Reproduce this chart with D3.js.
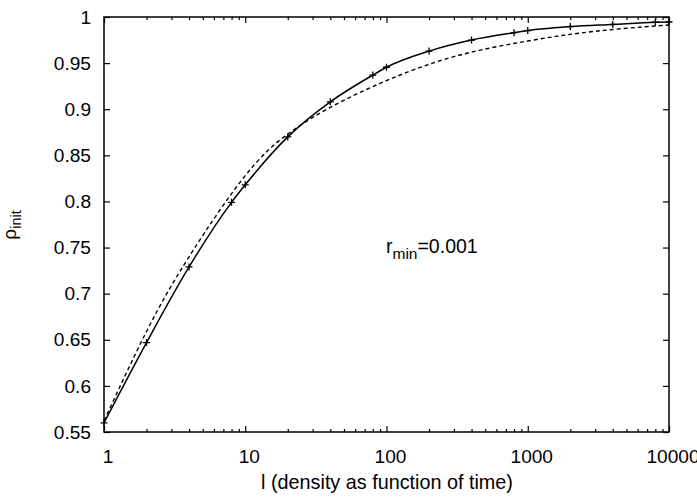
<!DOCTYPE html>
<html>
<head>
<meta charset="utf-8">
<script src="https://cdn.jsdelivr.net/npm/d3@7"></script>
<style>
  html, body { margin: 0; padding: 0; background: #fff; }
  svg { display: block; font-family: "Liberation Sans", Arial, sans-serif; }
</style>
</head>
<body>
<svg id="chart" width="697" height="497"></svg>
<script>
// ---- data ----
const simL   = [1, 2, 4, 8, 10, 20, 40, 80, 100, 200, 400, 800, 1000, 2000, 4000, 8000, 10000];
const simRho = [0.560, 0.647, 0.729, 0.799, 0.818, 0.870, 0.908, 0.937, 0.9455, 0.963, 0.975, 0.983, 0.9853, 0.9896, 0.992, 0.9943, 0.9946];

const fitL   = [1, 2, 4, 10, 20, 40, 100, 300, 1000, 3000, 10000];
const fitRho = [0.562, 0.659, 0.740, 0.828, 0.873, 0.902, 0.931, 0.957, 0.974, 0.9845, 0.9914];

const xMajor = [1, 10, 100, 1000, 10000];
const xTickLabels = ["1", "10", "100", "1000", "10000"];
const yMajor = [0.55, 0.6, 0.65, 0.7, 0.75, 0.8, 0.85, 0.9, 0.95, 1];
const yTickLabels = ["0.55", "0.6", "0.65", "0.7", "0.75", "0.8", "0.85", "0.9", "0.95", "1"];

(function () {
// ---- layout ----
const svg = d3.select("#chart");
const mLeft = 104, mRight = 669, mTop = 17, mBottom = 432;
const FS = 19.1;

const x = d3.scaleLog().domain([1, 10000]).range([mLeft, mRight]);
const y = d3.scaleLinear().domain([0.55, 1]).range([mBottom, mTop]);

svg.append("rect").attr("width", 697).attr("height", 497).attr("fill", "#fff");

// minor x ticks
const xMinor = [];
for (let d = 1; d < 10000; d *= 10) for (let k = 2; k <= 9; k++) xMinor.push(d * k);

function styleAxis(g) {
  g.select(".domain").remove();
  g.selectAll(".tick line").attr("stroke", "#000").attr("stroke-width", 1.2);
  g.selectAll("text").attr("fill", "#000").style("font-size", FS + "px")
    .style("font-family", '"Liberation Sans", Arial, sans-serif');
}

// bottom
svg.append("g").attr("transform", `translate(0,${mBottom})`)
  .call(d3.axisBottom(x).tickValues(xMajor).tickFormat((d, i) => xTickLabels[i]).tickSize(-6).tickPadding(17))
  .call(styleAxis)
  .call(g => g.selectAll("text").attr("dx", 3.5));
svg.append("g").attr("transform", `translate(0,${mBottom})`)
  .call(d3.axisBottom(x).tickValues(xMinor).tickFormat("").tickSize(-3))
  .call(styleAxis);
// top
svg.append("g").attr("transform", `translate(0,${mTop})`)
  .call(d3.axisTop(x).tickValues(xMajor).tickFormat("").tickSize(-6))
  .call(styleAxis);
svg.append("g").attr("transform", `translate(0,${mTop})`)
  .call(d3.axisTop(x).tickValues(xMinor).tickFormat("").tickSize(-3))
  .call(styleAxis);
// left
svg.append("g").attr("transform", `translate(${mLeft},0)`)
  .call(d3.axisLeft(y).tickValues(yMajor).tickFormat((d, i) => yTickLabels[i]).tickSize(-6).tickPadding(13))
  .call(styleAxis);
// right
svg.append("g").attr("transform", `translate(${mRight},0)`)
  .call(d3.axisRight(y).tickValues(yMajor).tickFormat("").tickSize(-6))
  .call(styleAxis);

// frame
svg.append("rect")
  .attr("x", mLeft).attr("y", mTop).attr("width", mRight - mLeft).attr("height", mBottom - mTop)
  .attr("fill", "none").attr("stroke", "#000").attr("stroke-width", 1.5);

// fit curve (dashed)
const line = d3.line().curve(d3.curveNatural);
svg.append("path")
  .attr("d", line(fitL.map((l, i) => [x(l), y(fitRho[i])])))
  .attr("fill", "none").attr("stroke", "#000").attr("stroke-width", 1.4)
  .attr("stroke-dasharray", "4,3");

// simulation curve (solid)
svg.append("path")
  .attr("d", d3.line().curve(d3.curveMonotoneX)(simL.map((l, i) => [x(l), y(simRho[i])])))
  .attr("fill", "none").attr("stroke", "#000").attr("stroke-width", 1.5);

// crosses
const cs = 3.5;
svg.append("g").selectAll("path").data(simL).join("path")
  .attr("d", (l, i) => {
    const px = x(l), py = y(simRho[i]);
    return `M${px - cs},${py}H${px + cs}M${px},${py - cs}V${py + cs}`;
  })
  .attr("stroke", "#000").attr("stroke-width", 1.3);

// x label
svg.append("text").attr("x", 387).attr("y", 489).attr("text-anchor", "middle")
  .style("font-size", "19.8px").text("l (density as function of time)");

// y label
const yl = svg.append("text").attr("transform", "translate(16,225) rotate(-90)")
  .attr("text-anchor", "middle").style("font-size", FS + "px");
yl.append("tspan").text("ρ");
yl.append("tspan").attr("dy", 5).style("font-size", "14.5px").text("init");

// annotation
const ann = svg.append("text").attr("x", 386).attr("y", 253).style("font-size", "19.5px");
ann.append("tspan").text("r");
ann.append("tspan").attr("dy", 6).style("font-size", "15.5px").text("min");
ann.append("tspan").attr("dy", -6).text("=0.001");
})();
</script>
</body>
</html>
